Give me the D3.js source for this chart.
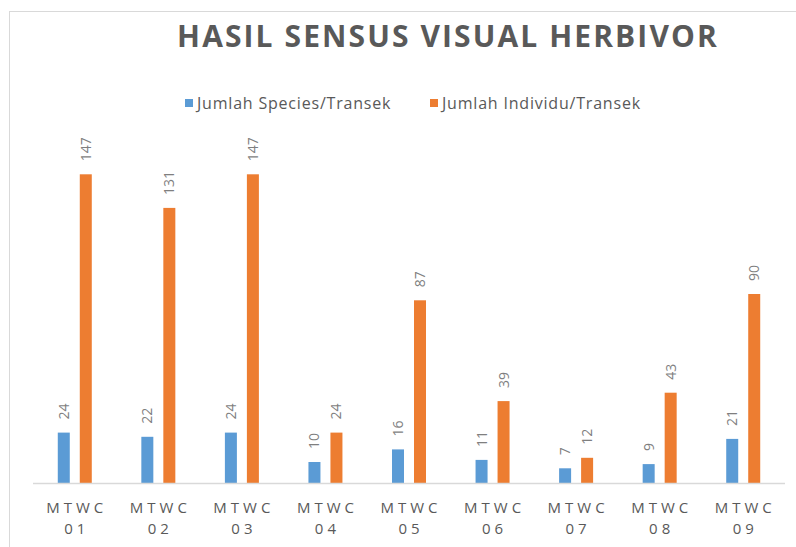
<!DOCTYPE html>
<html>
<head>
<meta charset="utf-8">
<script src="https://cdn.jsdelivr.net/npm/d3@7"></script>
<style>
  body { margin: 0; background: #fff; }
  svg { display: block; font-family: "Open Sans", sans-serif; }
</style>
</head>
<body>
<svg></svg>
<script>
// Data
const categories = ["01", "02", "03", "04", "05", "06", "07", "08", "09"];
const species = [24, 22, 24, 10, 16, 11, 7, 9, 21];
const individu = [147, 131, 147, 24, 87, 39, 12, 43, 90];
const seriesNames = ["Jumlah Species/Transek", "Jumlah Individu/Transek"];
const colors = ["#5b9bd5", "#ed7d31"];

const width = 796;
const height = 547;

const svg = d3.select("svg")
  .attr("width", width)
  .attr("height", height);

// outer chart border
svg.append("rect")
  .attr("x", 9.5)
  .attr("y", 11.5)
  .attr("width", width + 20)
  .attr("height", height + 20)
  .attr("fill", "#fff")
  .attr("stroke", "#d9d9d9");

// Title
svg.append("text")
  .attr("x", 448)
  .attr("y", 47)
  .attr("text-anchor", "middle")
  .attr("fill", "#595959")
  .attr("font-size", 30)
  .attr("font-weight", "bold")
  .attr("letter-spacing", 2.1)
  .text("HASIL SENSUS VISUAL HERBIVOR");

// Legend
const legendX = [185, 430];
const legend = svg.selectAll(".legend")
  .data(seriesNames)
  .enter()
  .append("g")
  .attr("class", "legend")
  .attr("transform", (d, i) => `translate(${legendX[i]}, 99)`);

legend.append("rect")
  .attr("width", 8)
  .attr("height", 8)
  .attr("fill", (d, i) => colors[i]);

legend.append("text")
  .attr("x", 12)
  .attr("y", 9.5)
  .attr("fill", "#595959")
  .attr("font-size", 16)
  .attr("letter-spacing", 0.8)
  .text(d => d);

// Scales
const plotLeft = 33, plotRight = 785;
const baseY = 483;

const x = d3.scaleBand()
  .domain(categories)
  .range([plotLeft, plotRight]);

const y = d3.scaleLinear()
  .domain([0, 160])
  .range([baseY, 147]);

const barW = 12;
const offsets = [-11, 11];

const data = categories.map((c, i) => ({ cat: c, values: [species[i], individu[i]] }));

const groups = svg.selectAll(".grp")
  .data(data)
  .enter()
  .append("g")
  .attr("class", "grp")
  .attr("transform", d => `translate(${x(d.cat) + x.bandwidth() / 2}, 0)`);

groups.selectAll("rect")
  .data(d => d.values)
  .enter()
  .append("rect")
  .attr("x", (v, i) => offsets[i] - barW / 2)
  .attr("y", v => y(v))
  .attr("width", barW)
  .attr("height", v => baseY - y(v))
  .attr("fill", (v, i) => colors[i]);

// value labels, rotated
groups.selectAll(".val")
  .data(d => d.values)
  .enter()
  .append("text")
  .attr("class", "val")
  .attr("transform", (v, i) => `translate(${offsets[i] + 5}, ${y(v) - 13}) rotate(-90)`)
  .attr("fill", "#7f7f7f")
  .attr("font-size", 14)
  .text(v => v);

// x axis line
svg.append("line")
  .attr("x1", plotLeft)
  .attr("x2", plotRight)
  .attr("y1", baseY + 0.5)
  .attr("y2", baseY + 0.5)
  .attr("stroke", "#d9d9d9")
  .attr("stroke-width", 1.5);

// category labels
const lab = groups.append("text")
  .attr("text-anchor", "middle")
  .attr("fill", "#595959")
  .attr("font-size", 15)
  .attr("letter-spacing", 4);

lab.append("tspan")
  .attr("x", 2)
  .attr("y", 513)
  .text("MTWC");

lab.append("tspan")
  .attr("x", 2)
  .attr("y", 534)
  .text(d => d.cat);
</script>
</body>
</html>
